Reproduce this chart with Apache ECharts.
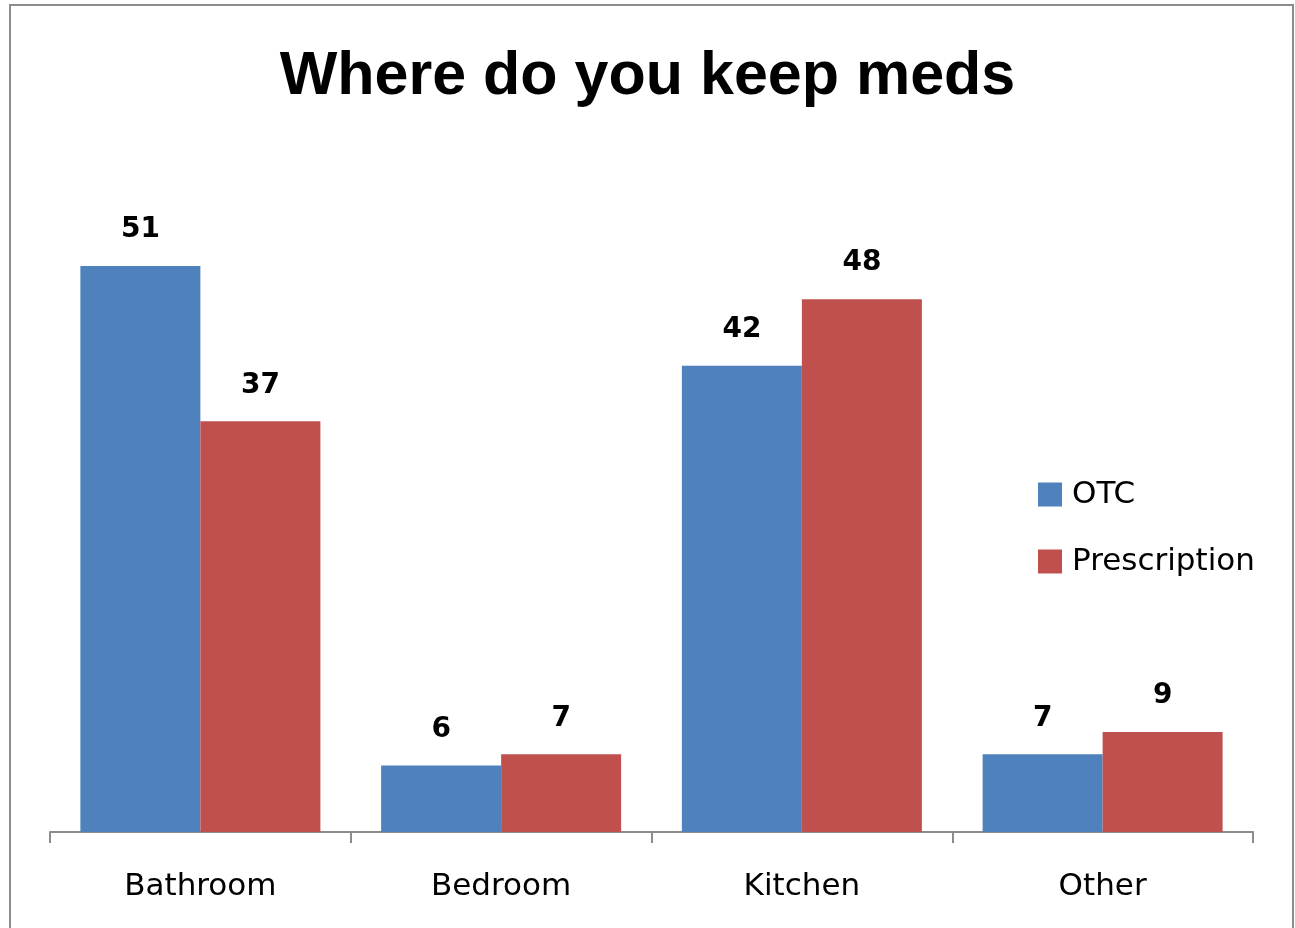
<!DOCTYPE html>
<html>
<head>
<meta charset="utf-8">
<script src="https://cdn.jsdelivr.net/npm/echarts@6/dist/echarts.min.js"></script>
<style>
  html, body { margin: 0; padding: 0; background: #fff; }
  #chart { width: 1295px; height: 928px; }
</style>
</head>
<body>
<div id="chart"></div>
<script>
// Where people keep over-the-counter vs prescription medication
const categories = ['Bathroom', 'Bedroom', 'Kitchen', 'Other'];
const otcValues = [51, 6, 42, 7];
const prescriptionValues = [37, 7, 48, 9];
const seriesNames = ['OTC', 'Prescription'];

const chart = echarts.init(document.getElementById('chart'), null, { renderer: 'canvas' });

const labelStyle = {
  show: true,
  position: 'top',
  distance: 22,
  color: '#000',
  fontFamily: 'DejaVu Sans',
  fontWeight: 'bold',
  fontSize: 28
};

chart.setOption({
  animation: false,
  backgroundColor: '#fff',
  graphic: [{
    type: 'rect',
    shape: { x: 10, y: 5, width: 1283, height: 940 },
    style: { fill: 'none', stroke: '#8c8c8c', lineWidth: 2 },
    silent: true
  }],
  title: {
    text: 'Where do you keep meds',
    left: 'center',
    top: 42,
    textStyle: {
      fontFamily: 'Liberation Sans',
      fontWeight: 'bold',
      fontSize: 61,
      color: '#000'
    }
  },
  legend: {
    orient: 'vertical',
    left: 1038,
    top: 479,
    padding: 0,
    icon: 'rect',
    itemWidth: 24,
    itemHeight: 24,
    itemGap: 36,
    data: seriesNames,
    textStyle: {
      fontFamily: 'DejaVu Sans',
      fontSize: 31,
      color: '#000',
      padding: [0, 0, 0, 5]
    }
  },
  grid: {
    left: 50,
    right: 42,
    top: 166,
    bottom: 96,
    containLabel: false
  },
  xAxis: {
    type: 'category',
    data: categories,
    axisLine: { lineStyle: { color: '#8c8c8c', width: 2 } },
    axisTick: { show: true, length: 11, lineStyle: { color: '#8c8c8c', width: 2 } },
    axisLabel: {
      margin: 39,
      color: '#000',
      fontFamily: 'DejaVu Sans',
      fontSize: 31
    }
  },
  yAxis: {
    type: 'value',
    min: 0,
    max: 60,
    show: false,
    splitLine: { show: false }
  },
  series: [
    {
      name: seriesNames[0],
      type: 'bar',
      data: otcValues,
      barWidth: 120,
      barGap: '0%',
      itemStyle: { color: '#4F81BD' },
      label: labelStyle
    },
    {
      name: seriesNames[1],
      type: 'bar',
      data: prescriptionValues,
      barWidth: 120,
      barGap: '0%',
      itemStyle: { color: '#C0504D' },
      label: labelStyle
    }
  ]
});
</script>
</body>
</html>
